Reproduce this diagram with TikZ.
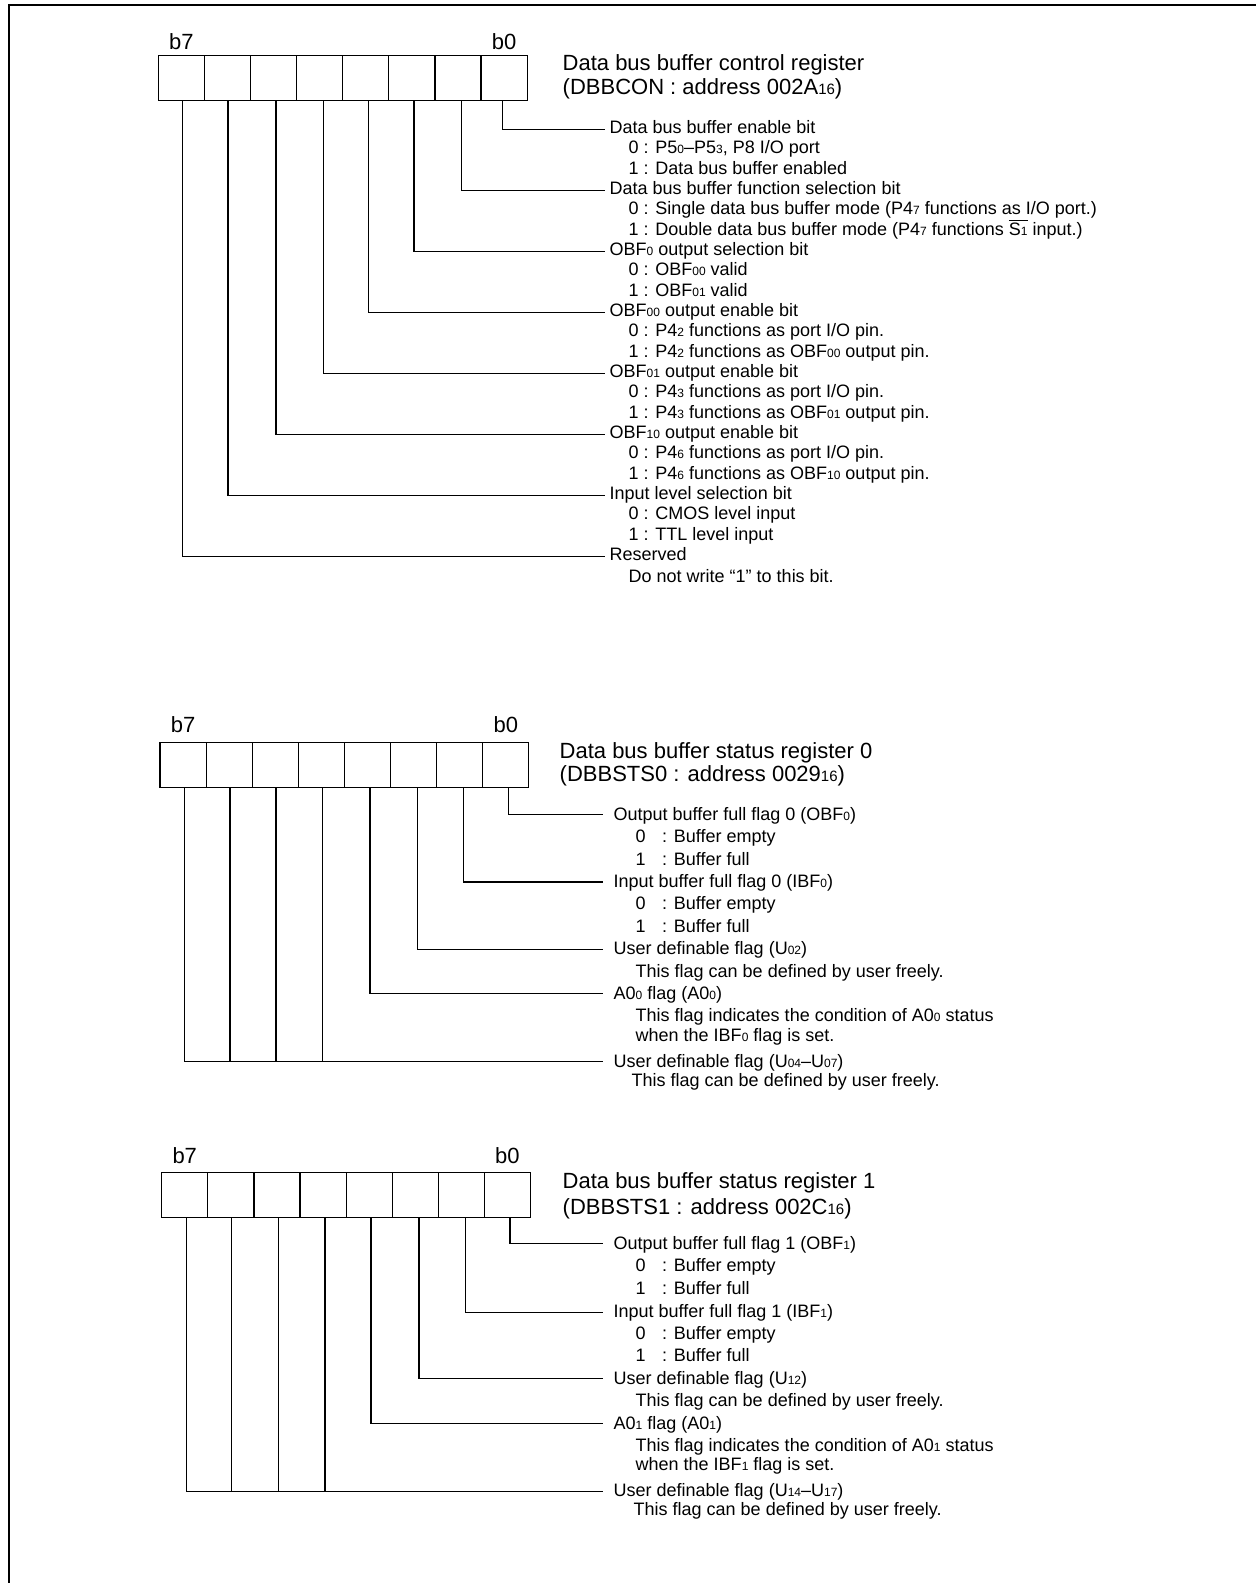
\documentclass[tikz,border=0pt]{standalone}
\usepackage{fontspec}
\setmainfont{Liberation Sans}
\tikzset{
  bitcell/.style={draw,line width=1.2pt,minimum width=46.1pt,minimum height=45pt,inner sep=0pt},
  bitlbl/.style={anchor=base,inner sep=0pt,font=\fontsize{22}{24}\selectfont},
  ttl/.style={anchor=base west,inner sep=0pt,font=\fontsize{22}{24}\selectfont},
  desc/.style={anchor=north west,inner sep=0pt,align=left,font=\fontsize{18}{#1}\selectfont},
  desc/.default=22.5,
  lead/.style={line width=1.2pt}
}
\newcommand{\sbx}[1]{{\fontsize{12}{12}\selectfont #1}}
\newcommand{\sbt}[1]{{\fontsize{15}{15}\selectfont #1}}
\newcommand{\frs}{\rule{0pt}{15pt}}
\newcommand{\ovl}[1]{\vbox{\hrule height 1.1pt\kern1.6pt\hbox{#1}}}
\newcommand{\regrow}[4]{%
  \foreach \i in {0,...,7}
    \node[bitcell] (#1-\i) at ({#2+46.1*(7-\i)+23.05},{#3+22.5}) {};
  \node[bitlbl] (#1-b7) at (#1-7.center |- 0,#4) {b7};
  \node[bitlbl] (#1-b0) at (#1-0.center |- 0,#4) {b0};}

\begin{document}
\begin{tikzpicture}[x=1pt,y=-1pt]
\useasboundingbox (0,0) rectangle (1256,1583);
\draw[line width=1.8pt] (9,1583) -- (9,5) -- (1256,5);

% DBBCON
\regrow{dbbcon}{158.3}{55.7}{49.3}
\node[ttl] (dbbcon-t1) at (562.5,70) {Data bus buffer control register};
\node[ttl] (dbbcon-t2) at (562.5,94.3) {(DBBCON : address 002A\sbt{16})};
\node[desc=20.34] (dbbcon-h0) at (609.5,118.3) {\frs Data bus buffer enable bit\\
  \hspace*{19pt}0 : P5\sbx{0}–P5\sbx{3}, P8 I/O port\\
  \hspace*{19pt}1 : Data bus buffer enabled};
\node[desc=20.34] (dbbcon-h1) at (609.5,179.3) {\frs Data bus buffer function selection bit\\
  \hspace*{19pt}0 : Single data bus buffer mode (P4\sbx{7} functions as I/O port.)\\
  \hspace*{19pt}1 : Double data bus buffer mode (P4\sbx{7} functions \ovl{S\sbx{1}} input.)};
\node[desc=20.34] (dbbcon-h2) at (609.5,240.3) {\frs OBF\sbx{0} output selection bit\\
  \hspace*{19pt}0 : OBF\sbx{00} valid\\
  \hspace*{19pt}1 : OBF\sbx{01} valid};
\node[desc=20.34] (dbbcon-h3) at (609.5,301.4) {\frs OBF\sbx{00} output enable bit\\
  \hspace*{19pt}0 : P4\sbx{2} functions as port I/O pin.\\
  \hspace*{19pt}1 : P4\sbx{2} functions as OBF\sbx{00} output pin.};
\node[desc=20.34] (dbbcon-h4) at (609.5,362.4) {\frs OBF\sbx{01} output enable bit\\
  \hspace*{19pt}0 : P4\sbx{3} functions as port I/O pin.\\
  \hspace*{19pt}1 : P4\sbx{3} functions as OBF\sbx{01} output pin.};
\node[desc=20.34] (dbbcon-h5) at (609.5,423.4) {\frs OBF\sbx{10} output enable bit\\
  \hspace*{19pt}0 : P4\sbx{6} functions as port I/O pin.\\
  \hspace*{19pt}1 : P4\sbx{6} functions as OBF\sbx{10} output pin.};
\node[desc=20.34] (dbbcon-h6) at (609.5,484.4) {\frs Input level selection bit\\
  \hspace*{19pt}0 : CMOS level input\\
  \hspace*{19pt}1 : TTL level input};
\node[desc=22.2] (dbbcon-h7) at (609.5,545.4) {\frs Reserved\\
  \hspace*{19pt}Do not write “1” to this bit.};
\foreach \i/\dx in {0/-1.8,1/3.7,2/2.1,3/2.9,4/4,5/2.4,6/0.5,7/1.3}
  \draw[lead] ([xshift=\dx pt]dbbcon-\i.south) |- ([xshift=-4.5pt,yshift=-11pt]dbbcon-h\i.north west);

% DBBSTS0
\regrow{dbbsts0}{160}{742.3}{732.3}
\node[ttl] (dbbsts0-t1) at (559.5,758.3) {Data bus buffer status register 0};
\node[ttl] (dbbsts0-t2) at (559.5,781.6) {(DBBSTS0 : address 0029\sbt{16})};
\node[desc] (dbbsts0-h0) at (613.5,804.8) {\frs Output buffer full flag 0 (OBF\sbx{0})\\
  \hspace*{22pt}0\hspace{16.5pt}: Buffer empty\\
  \hspace*{22pt}1\hspace{16.5pt}: Buffer full};
\node[desc=22.25] (dbbsts0-h1) at (613.5,872.5) {\frs Input buffer full flag 0 (IBF\sbx{0})\\
  \hspace*{22pt}0\hspace{16.5pt}: Buffer empty\\
  \hspace*{22pt}1\hspace{16.5pt}: Buffer full};
\node[desc] (dbbsts0-h2) at (613.5,939.7) {\frs User definable flag (U\sbx{02})\\
  \hspace*{22pt}This flag can be defined by user freely.};
\node[desc] (dbbsts0-h3) at (613.5,983.9) {\frs A0\sbx{0} flag (A0\sbx{0})\\
  \hspace*{22pt}This flag indicates the condition of A0\sbx{0} status\\[-2.9pt]
  \hspace*{22pt}when the IBF\sbx{0} flag is set.};
\node[desc=19.7] (dbbsts0-h4) at (613.5,1052) {\frs User definable flag (U\sbx{04}–U\sbx{07})\\
  \hspace*{18pt}This flag can be defined by user freely.};
\foreach \i/\dx in {0/2.5,1/3.6,2/4.1,3/2.5}
  \draw[lead] ([xshift=\dx pt]dbbsts0-\i.south) |- ([xshift=-10.5pt,yshift=-9.5pt]dbbsts0-h\i.north west);
\coordinate (dbbsts0-j) at ([xshift=-10.5pt,yshift=-9.5pt]dbbsts0-h4.north west);
\draw[lead] ([xshift=1.3pt]dbbsts0-7.south) |- (dbbsts0-j);
\foreach \i/\dx in {4/1.3,5/0.8,6/0.9}
  \draw[lead] ([xshift=\dx pt]dbbsts0-\i.south) -- ([xshift=\dx pt]dbbsts0-\i.south |- dbbsts0-j);

% DBBSTS1
\regrow{dbbsts1}{161.7}{1172.3}{1163.3}
\node[ttl] (dbbsts1-t1) at (562.5,1188.3) {Data bus buffer status register 1};
\node[ttl] (dbbsts1-t2) at (562.5,1214.9) {(DBBSTS1 : address 002C\sbt{16})};
\node[desc=22.7] (dbbsts1-h0) at (613.5,1233.8) {\frs Output buffer full flag 1 (OBF\sbx{1})\\
  \hspace*{22pt}0\hspace{16.5pt}: Buffer empty\\
  \hspace*{22pt}1\hspace{16.5pt}: Buffer full};
\node[desc=21.8] (dbbsts1-h1) at (613.5,1302.2) {\frs Input buffer full flag 1 (IBF\sbx{1})\\
  \hspace*{22pt}0\hspace{16.5pt}: Buffer empty\\
  \hspace*{22pt}1\hspace{16.5pt}: Buffer full};
\node[desc] (dbbsts1-h2) at (613.5,1368.8) {\frs User definable flag (U\sbx{12})\\
  \hspace*{22pt}This flag can be defined by user freely.};
\node[desc=22.7] (dbbsts1-h3) at (613.5,1413.8) {\frs A0\sbx{1} flag (A0\sbx{1})\\
  \hspace*{22pt}This flag indicates the condition of A0\sbx{1} status\\[-3.7pt]
  \hspace*{22pt}when the IBF\sbx{1} flag is set.};
\node[desc=19.3] (dbbsts1-h4) at (613.5,1481.2) {\frs User definable flag (U\sbx{14}–U\sbx{17})\\
  \hspace*{20pt}This flag can be defined by user freely.};
\foreach \i/\dx in {0/2.6,1/4.3,2/3.7,3/1.9}
  \draw[lead] ([xshift=\dx pt]dbbsts1-\i.south) |- ([xshift=-10.8pt,yshift=-10pt]dbbsts1-h\i.north west);
\coordinate (dbbsts1-j) at ([xshift=-10.8pt,yshift=-10pt]dbbsts1-h4.north west);
\draw[lead] ([xshift=2pt]dbbsts1-7.south) |- (dbbsts1-j);
\foreach \i/\dx in {4/2,5/1.4,6/0.9}
  \draw[lead] ([xshift=\dx pt]dbbsts1-\i.south) -- ([xshift=\dx pt]dbbsts1-\i.south |- dbbsts1-j);
\end{tikzpicture}
\end{document}
